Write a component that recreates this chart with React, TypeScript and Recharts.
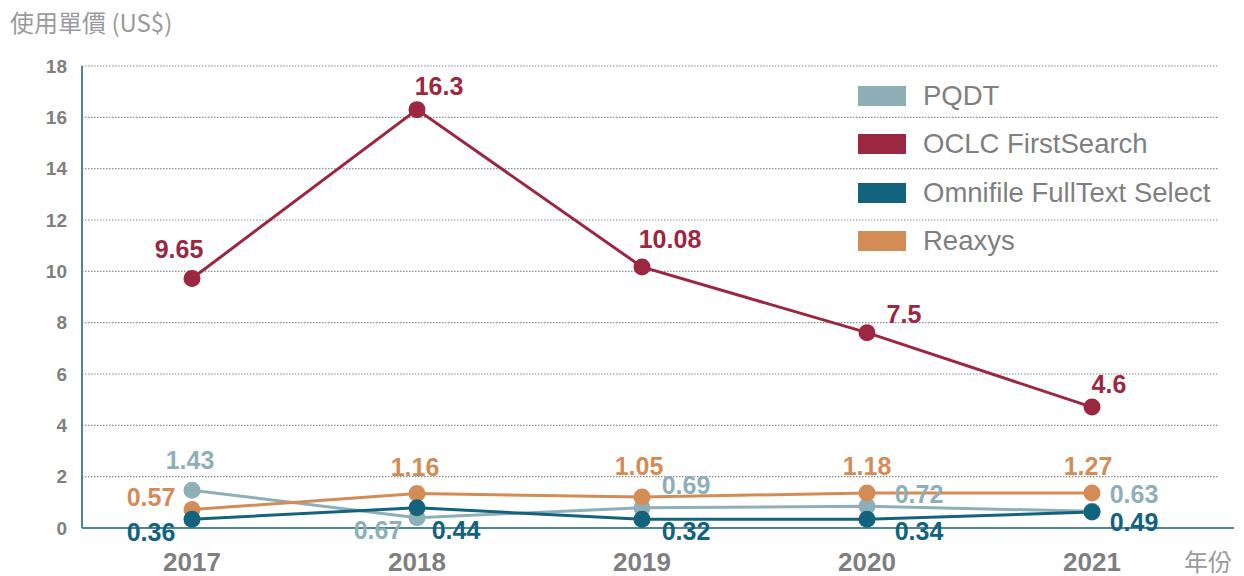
import React from 'react';
import { LineChart, Line, XAxis, YAxis, CartesianGrid } from 'recharts';

// years on the x axis
const years = ['2017', '2018', '2019', '2020', '2021'];
const yTicks = [0, 2, 4, 6, 8, 10, 12, 14, 16, 18];

// plotted values
// (the printed labels in the source don't always agree with where the dots sit)
const pqdt = [1.47, 0.4, 0.79, 0.85, 0.65];
const oclc = [9.72, 16.3, 10.17, 7.61, 4.71];
const omnifile = [0.34, 0.79, 0.34, 0.34, 0.62];
const reaxys = [0.72, 1.34, 1.21, 1.36, 1.36];

// printed value labels
const pqdtLabels = ['1.43', '0.67', '0.69', '0.72', '0.63'];
const oclcLabels = ['9.65', '16.3', '10.08', '7.5', '4.6'];
const omnifileLabels = ['0.36', '0.44', '0.32', '0.34', '0.49'];
const reaxysLabels = ['0.57', '1.16', '1.05', '1.18', '1.27'];

// label offsets from the dot, [dx, dy]
const pqdtOff = [[-2, -30], [-39, 12], [44, -23], [52, -12], [42, -17]];
const oclcOff = [[-13, -30], [22, -24], [28, -28], [37, -19], [17, -23]];
const omnifileOff = [[-41, 13], [39, 22], [44, 12], [52, 12], [42, 10]];
const reaxysOff = [[-41, -13], [-2, -27], [-3, -31], [0, -27], [-4, -27]];

const C_PQDT = '#8eafb8';
const C_OCLC = '#9b2740';
const C_OMNI = '#14637e';
const C_REAX = '#d38c56';
const AXIS = '#4d8791';
const GRAY = '#7f7f7f';
const LATIN = '"Liberation Sans", Arial, sans-serif';
const CJK = '"Noto Sans CJK TC", "Noto Sans CJK SC", sans-serif';

const data = years.map((year, i) => ({
  year,
  PQDT: pqdt[i],
  OCLC: oclc[i],
  Omnifile: omnifile[i],
  Reaxys: reaxys[i],
}));

const legendItems = [
  { name: 'PQDT', color: C_PQDT },
  { name: 'OCLC FirstSearch', color: C_OCLC },
  { name: 'Omnifile FullText Select', color: C_OMNI },
  { name: 'Reaxys', color: C_REAX },
];

const makeLabel = (texts: string[], offs: number[][], color: string) => (props: any) => {
  const { x, y, index } = props;
  if (x == null || y == null) return null;
  const [dx, dy] = offs[index] || [0, 0];
  return (
    <text
      x={x + dx}
      y={y + dy}
      textAnchor="middle"
      dominantBaseline="central"
      fill={color}
      fontSize={25}
      fontWeight="bold"
      fontFamily={LATIN}
    >
      {texts[index]}
    </text>
  );
};

const XTick = (props: any) => {
  const { x, payload } = props;
  return (
    <text x={x} y={562} textAnchor="middle" dominantBaseline="central" fill={GRAY} fontSize={26} fontWeight="bold" fontFamily={LATIN}>
      {payload.value}
    </text>
  );
};

const YTick = (props: any) => {
  const { y, payload } = props;
  return (
    <text x={67} y={y} textAnchor="end" dominantBaseline="central" fill={GRAY} fontSize={19} fontWeight="bold" fontFamily={LATIN}>
      {payload.value}
    </text>
  );
};

const dot = (color: string) => ({ r: 8.5, fill: color, stroke: color, strokeWidth: 0 });

export default function App() {
  return (
    <div style={{ position: 'absolute', left: 0, top: 0, width: 1244, height: 576, background: '#fff' }}>
      <div style={{ position: 'absolute', left: 10, top: 6, fontFamily: CJK, fontSize: 24, color: '#9a9a9a', lineHeight: '32px', whiteSpace: 'pre' }}>
        使用單價 (US$)
      </div>
      <div style={{ position: 'absolute', left: 1184, top: 545, fontFamily: CJK, fontSize: 24, color: '#9a9a9a', lineHeight: '32px' }}>
        年份
      </div>
      <LineChart width={1244} height={576} data={data} margin={{ top: 66, right: 26, bottom: 0, left: 0 }}>
        <CartesianGrid vertical={false} stroke="#8c8c8c" strokeWidth={1.2} strokeDasharray="1.5 1.5" />
        <XAxis
          dataKey="year"
          height={48}
          padding={{ left: 110, right: 126 }}
          axisLine={{ stroke: AXIS, strokeWidth: 2 }}
          tickLine={false}
          tick={<XTick />}
          interval={0}
        />
        <YAxis
          width={82}
          domain={[0, 18]}
          ticks={yTicks}
          axisLine={{ stroke: AXIS, strokeWidth: 2 }}
          tickLine={false}
          tick={<YTick />}
          interval={0}
        />
        <Line dataKey="PQDT" stroke={C_PQDT} strokeWidth={3} dot={dot(C_PQDT)} activeDot={false} isAnimationActive={false} label={makeLabel(pqdtLabels, pqdtOff, C_PQDT)} />
        <Line dataKey="Reaxys" stroke={C_REAX} strokeWidth={3} dot={dot(C_REAX)} activeDot={false} isAnimationActive={false} label={makeLabel(reaxysLabels, reaxysOff, C_REAX)} />
        <Line dataKey="Omnifile" stroke={C_OMNI} strokeWidth={3} dot={dot(C_OMNI)} activeDot={false} isAnimationActive={false} label={makeLabel(omnifileLabels, omnifileOff, C_OMNI)} />
        <Line dataKey="OCLC" stroke={C_OCLC} strokeWidth={3} dot={dot(C_OCLC)} activeDot={false} isAnimationActive={false} label={makeLabel(oclcLabels, oclcOff, C_OCLC)} />
      </LineChart>
      {/* legend */}
      <div style={{ position: 'absolute', left: 858, top: 72, fontFamily: LATIN }}>
        {legendItems.map((it) => (
          <div key={it.name} style={{ display: 'flex', alignItems: 'center', height: 48.3 }}>
            <div style={{ width: 48, height: 20, background: it.color, marginRight: 17 }} />
            <span style={{ fontSize: 27.5, color: GRAY, lineHeight: '30px' }}>{it.name}</span>
          </div>
        ))}
      </div>
      {/* x axis line runs a bit past the grid */}
      <div style={{ position: 'absolute', left: 1218, top: 527, width: 16, height: 2, background: AXIS }} />
    </div>
  );
}
